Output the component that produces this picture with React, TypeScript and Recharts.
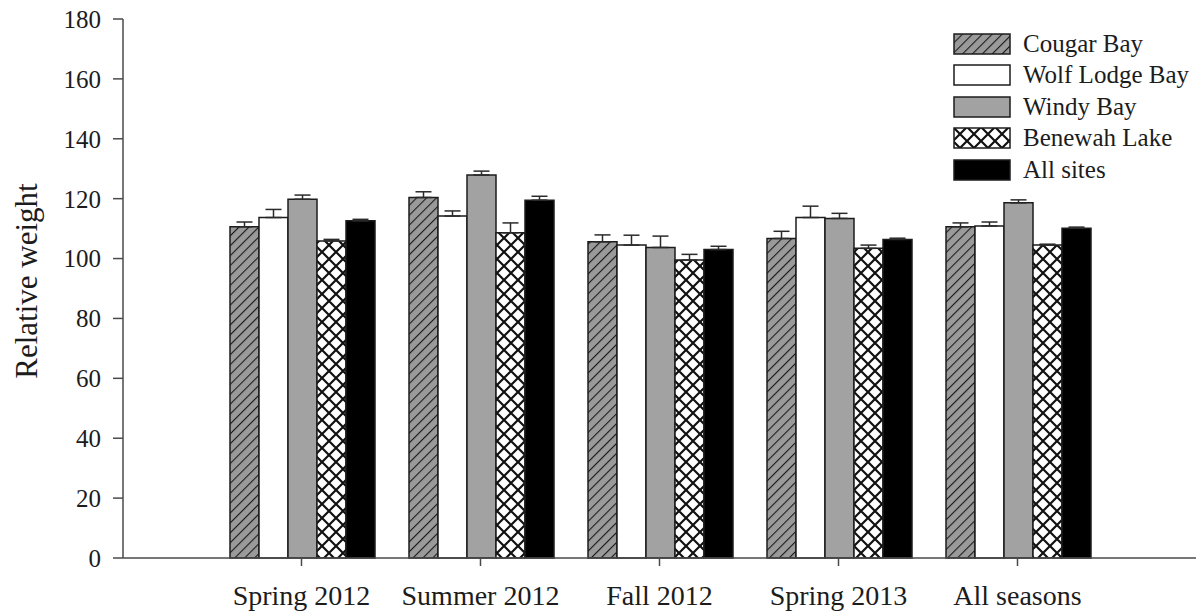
import { BarChart, Bar, XAxis, YAxis, ErrorBar, Legend } from "recharts"

const SEASONS = ["Spring 2012", "Summer 2012", "Fall 2012", "Spring 2013", "All seasons"]

// mean relative weight per site, with the upper standard error
const COUGAR_BAY = [110.6, 120.4, 105.6, 106.7, 110.6]
const COUGAR_BAY_SE = [1.6, 1.9, 2.3, 2.4, 1.3]
const WOLF_LODGE_BAY = [113.7, 114.2, 104.5, 113.7, 110.9]
const WOLF_LODGE_BAY_SE = [2.7, 1.7, 3.3, 3.8, 1.3]
const WINDY_BAY = [119.8, 127.9, 103.7, 113.4, 118.6]
const WINDY_BAY_SE = [1.4, 1.3, 3.8, 1.7, 1.0]
const BENEWAH_LAKE = [105.9, 108.6, 99.5, 103.4, 104.5]
const BENEWAH_LAKE_SE = [0.5, 3.3, 1.9, 1.1, 0.3]
const ALL_SITES = [112.6, 119.5, 103.0, 106.4, 110.1]
const ALL_SITES_SE = [0.5, 1.3, 1.1, 0.4, 0.4]

const Y_TICKS = [0, 20, 40, 60, 80, 100, 120, 140, 160, 180]

const SERIF = "Liberation Serif, Times New Roman, Times, serif"
const INK = "#1c1c1c"
const AXIS = "#4a4a4a"

const SERIES = [
  { key: "cougar", name: "Cougar Bay", fill: "url(#hatch)" },
  { key: "wolf", name: "Wolf Lodge Bay", fill: "#ffffff" },
  { key: "windy", name: "Windy Bay", fill: "#a2a2a2" },
  { key: "benewah", name: "Benewah Lake", fill: "url(#cross)" },
  { key: "all", name: "All sites", fill: "#000000" },
]

// error bars only go up, so the low side is 0
const rows = SEASONS.map((season, i) => ({
  season,
  cougar: COUGAR_BAY[i],
  cougarErr: [0, COUGAR_BAY_SE[i]],
  wolf: WOLF_LODGE_BAY[i],
  wolfErr: [0, WOLF_LODGE_BAY_SE[i]],
  windy: WINDY_BAY[i],
  windyErr: [0, WINDY_BAY_SE[i]],
  benewah: BENEWAH_LAKE[i],
  benewahErr: [0, BENEWAH_LAKE_SE[i]],
  all: ALL_SITES[i],
  allErr: [0, ALL_SITES_SE[i]],
}))

function Patterns() {
  return (
    <svg width={0} height={0} style={{ position: "absolute" }}>
      <defs>
        <pattern id="hatch" width={7} height={7} patternUnits="userSpaceOnUse" patternTransform="rotate(45)">
          <rect width={7} height={7} fill="#9a9a9a" />
          <line x1={0} y1={0} x2={0} y2={7} stroke="#1a1a1a" strokeWidth={2.2} />
        </pattern>
        <pattern id="cross" width={14} height={14} patternUnits="userSpaceOnUse">
          <rect width={14} height={14} fill="#ffffff" />
          <path d="M-1,-1 L15,15 M15,-1 L-1,15" stroke="#111" strokeWidth={2.2} />
        </pattern>
      </defs>
    </svg>
  )
}

function SiteLegend() {
  return (
    <div style={{ fontFamily: SERIF, fontSize: 25, color: INK }}>
      {SERIES.map((s) => (
        <div key={s.key} style={{ display: "flex", alignItems: "center", height: 31.5 }}>
          <svg width={58} height={22} style={{ display: "block" }}>
            <rect x={1} y={1} width={56} height={20} fill={s.fill} stroke={INK} strokeWidth={1.5} />
          </svg>
          <span style={{ marginLeft: 12, whiteSpace: "nowrap" }}>{s.name}</span>
        </div>
      ))}
    </div>
  )
}

export default function App() {
  return (
    <div
      style={{
        position: "absolute",
        left: 0,
        top: 0,
        width: 1198,
        height: 614,
        background: "#fff",
        fontFamily: SERIF,
      }}
    >
      <Patterns />
      <BarChart
        width={1198}
        height={614}
        data={rows}
        margin={{ top: 19, right: 2, bottom: 0, left: 0 }}
        barCategoryGap={18}
        barGap={0}
        style={{ fontFamily: SERIF }}
      >
        <XAxis
          dataKey="season"
          interval={0}
          padding={{ left: 89, right: 89 }}
          height={56}
          axisLine={{ stroke: AXIS, strokeWidth: 1.5 }}
          tickLine={{ stroke: AXIS, strokeWidth: 1.5 }}
          tickSize={8}
          tickMargin={19}
          tick={{ fill: INK, fontSize: 28, fontFamily: SERIF }}
        />
        <XAxis
          xAxisId="frame"
          orientation="top"
          dataKey="season"
          height={0}
          tick={false}
          tickLine={false}
          axisLine={{ stroke: AXIS, strokeWidth: 1.5 }}
        />
        <YAxis
          domain={[0, 180]}
          ticks={Y_TICKS}
          width={123}
          axisLine={{ stroke: AXIS, strokeWidth: 1.5 }}
          tickLine={{ stroke: AXIS, strokeWidth: 1.5 }}
          tickSize={10}
          tickMargin={12}
          tick={{ fill: INK, fontSize: 25, fontFamily: SERIF }}
          label={{
            content: () => (
              <text
                x={26}
                y={281}
                transform="rotate(-90 26 281)"
                textAnchor="middle"
                dominantBaseline="central"
                fill={INK}
                fontSize={31}
                fontFamily={SERIF}
              >
                Relative weight
              </text>
            ),
          }}
        />
        <YAxis
          yAxisId="frame"
          orientation="right"
          domain={[0, 180]}
          width={0}
          tick={false}
          tickLine={false}
          axisLine={{ stroke: AXIS, strokeWidth: 1.5 }}
        />
        {SERIES.map((s) => (
          <Bar
            key={s.key}
            dataKey={s.key}
            name={s.name}
            fill={s.fill}
            stroke={INK}
            strokeWidth={1.5}
            isAnimationActive={false}
          >
            <ErrorBar dataKey={`${s.key}Err`} direction="y" width={8} stroke="#2a2a2a" strokeWidth={1.5} />
          </Bar>
        ))}
        <Legend
          layout="vertical"
          align="center"
          verticalAlign="middle"
          wrapperStyle={{ left: 953, top: 28, width: 245 }}
          content={() => <SiteLegend />}
        />
      </BarChart>
    </div>
  )
}
